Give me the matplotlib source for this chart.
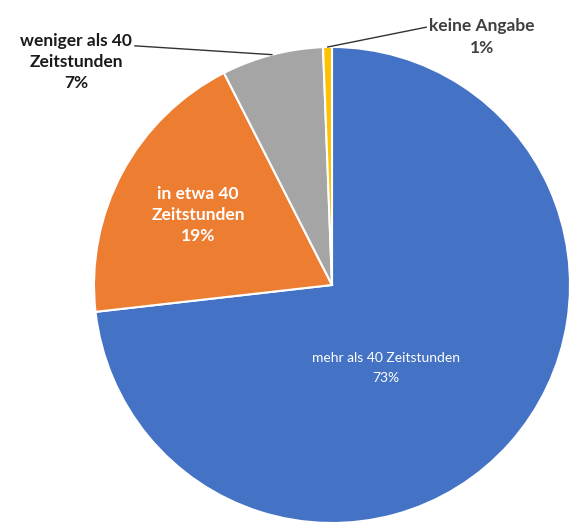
import numpy as np
import matplotlib.pyplot as plt

# Anteile (im Uhrzeigersinn ab 12 Uhr)
kategorien = ["mehr als 40 Zeitstunden", "in etwa 40\nZeitstunden",
              "weniger als 40\nZeitstunden", "keine Angabe"]
anteile = [73.2, 19.3, 6.9, 0.6]
prozent = ["73%", "19%", "7%", "1%"]
farben = ["#4472C4", "#ED7D31", "#A5A5A5", "#FFC000"]

plt.rcParams['font.family'] = ['Lato', 'DejaVu Sans']

W, H = 575, 523
fig = plt.figure(figsize=(W / 100, H / 100), dpi=100)
ax = fig.add_axes([0, 0, 1, 1])

mitte = (332, H - 285)
radius = 238

wedges, _ = ax.pie(anteile, colors=farben, startangle=90, counterclock=False,
                   center=mitte, radius=radius, frame=True,
                   wedgeprops=dict(edgecolor='white', linewidth=1.5))
ax.set_xlim(0, W)
ax.set_ylim(0, H)
ax.set_aspect('equal')
ax.axis('off')

def randpunkt(w):
    t = np.deg2rad((w.theta1 + w.theta2) / 2)
    return mitte[0] + radius * np.cos(t), mitte[1] + radius * np.sin(t)

# Beschriftungen innen
ax.text(386, H - 368, kategorien[0] + "\n" + prozent[0], color='white',
        fontsize=10, ha='center', va='center', linespacing=1.8)
ax.text(198, H - 215, kategorien[1] + "\n" + prozent[1], color='white',
        fontsize=12.5, fontweight='bold', ha='center', va='center', linespacing=1.4)

# Beschriftungen aussen mit Fuehrungslinie
ax.annotate(kategorien[2] + "\n" + prozent[2], xy=randpunkt(wedges[2]),
            xytext=(76, H - 62), color='#1a1a1a', fontsize=12.5, fontweight='bold',
            ha='center', va='center', linespacing=1.4,
            arrowprops=dict(arrowstyle='-', color='#333333', lw=1,
                            shrinkA=0, shrinkB=0,
                            relpos=(1.0, 0.78)))
ax.annotate(kategorien[3] + "\n" + prozent[3], xy=randpunkt(wedges[3]),
            xytext=(482, H - 37), color='#404040', fontsize=12.5, fontweight='bold',
            ha='center', va='center', linespacing=1.4,
            arrowprops=dict(arrowstyle='-', color='#333333', lw=1,
                            shrinkA=0, shrinkB=0,
                            relpos=(0.0, 0.78)))

fig.savefig("out.png", dpi=100, facecolor='white')
